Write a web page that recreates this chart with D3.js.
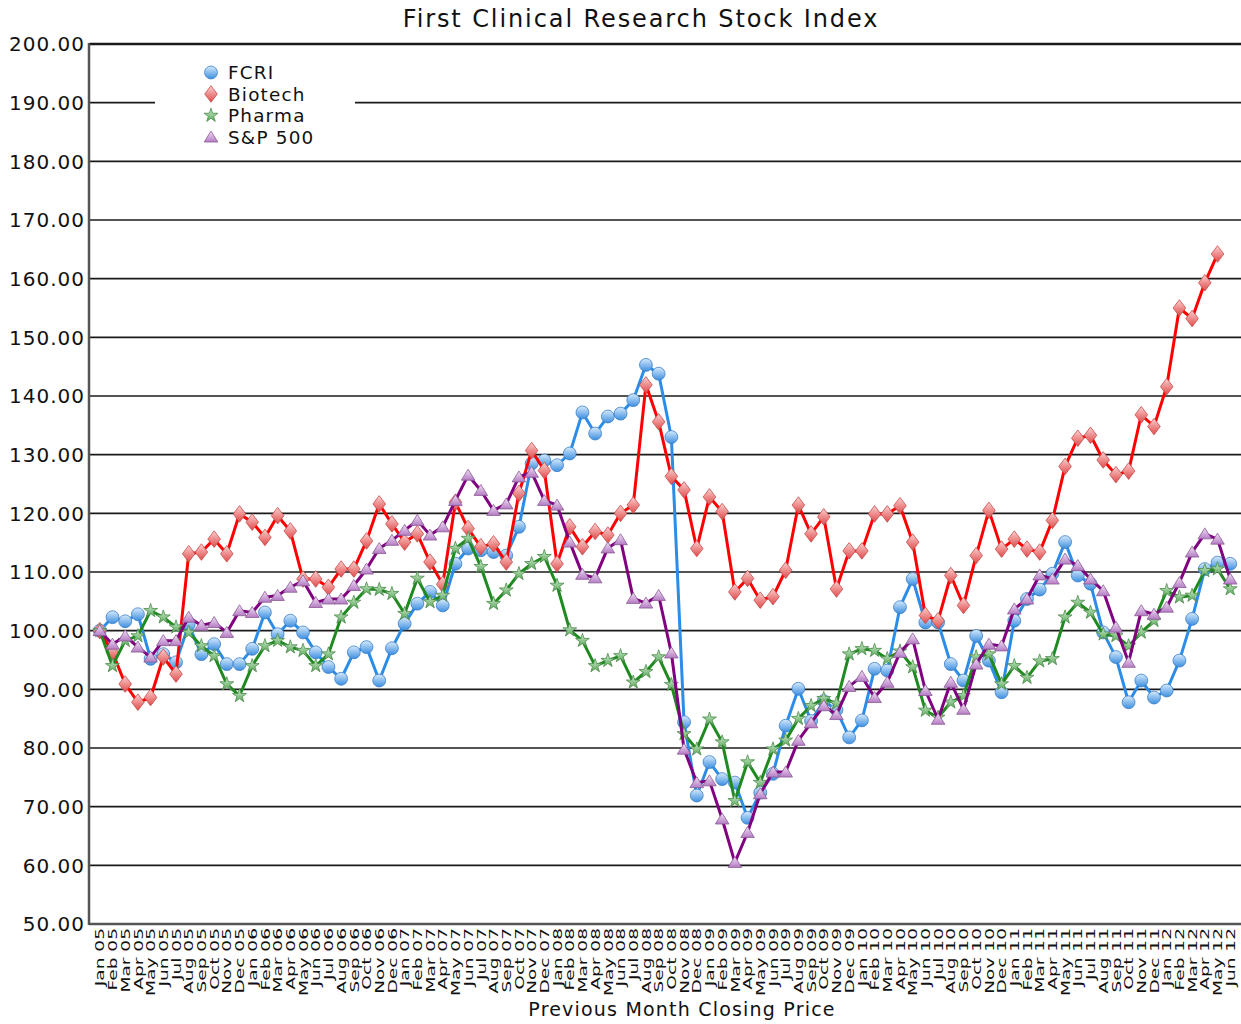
<!DOCTYPE html>
<html>
<head>
<meta charset="utf-8">
<script src="https://cdn.jsdelivr.net/npm/d3@7"></script>
<style>
  body { margin: 0; background: #fff; }
  text { font-family: "DejaVu Sans", Verdana, sans-serif; fill: #111; }
</style>
</head>
<body>
<div id="chart"></div>
<script>
const monthNames = ["Jan","Feb","Mar","Apr","May","Jun","Jul","Aug","Sep","Oct","Nov","Dec"];
const years = ["05","06","07","08","09","10","11","12"];
// Jan 05 .. Jun 12
const months = [];
years.forEach(y => monthNames.forEach((m, i) => { if (!(y === "12" && i > 5)) months.push(m + " " + y); }));

const yTicks = [50, 60, 70, 80, 90, 100, 110, 120, 130, 140, 150, 160, 170, 180, 190, 200];

const fcri = [100,102.3,101.6,102.8,95.2,96.0,94.6,101.0,96.0,97.7,94.3,94.3,96.9,103.1,99.4,101.7,99.7,96.3,93.8,91.8,
  96.3,97.2,91.5,97.0,101.2,104.6,106.6,104.3,111.4,114.0,113.7,113.4,112.8,117.7,128.5,129.0,128.2,130.2,137.2,133.6,
  136.5,137.0,139.3,145.3,143.8,133.0,84.4,71.9,77.6,74.7,74.1,68.1,72.4,75.6,83.8,90.1,84.6,88.0,86.5,81.8,
  84.7,93.5,93.2,104.0,108.8,101.4,101.4,94.3,91.5,99.1,94.9,89.5,101.7,105.4,107.0,109.7,115.1,109.4,108.0,99.7,
  95.5,87.8,91.5,88.6,89.8,94.9,102.0,110.5,111.6,111.4];

const biotech = [100,96.3,90.9,87.8,88.6,95.5,92.6,113.1,113.4,115.6,113.1,119.9,118.5,115.9,119.6,117.0,108.8,108.8,107.4,110.5,
  110.5,115.3,121.6,118.2,115.1,116.5,111.7,107.9,121.9,117.4,114.3,114.8,111.7,123.4,130.7,127.3,111.4,117.7,114.3,116.9,
  116.3,120.0,121.4,141.9,135.6,126.3,124.0,114.0,122.8,120.3,106.6,108.9,105.2,105.8,110.3,121.4,116.5,119.4,107.1,113.6,
  113.6,119.9,119.9,121.3,115.1,102.6,101.7,109.4,104.3,112.8,120.5,113.9,115.6,113.9,113.4,118.8,128.0,132.8,133.3,129.1,
  126.6,127.2,136.8,134.8,141.6,155.0,153.2,159.3,164.2,null];

const pharma = [100,94.0,98.3,99.1,103.4,102.3,100.6,99.7,97.4,95.7,90.9,88.9,94.0,97.4,98.3,97.2,96.6,94.0,96.0,102.3,
  104.8,107.1,107.0,106.3,102.9,108.9,104.9,106.0,114.0,115.7,110.9,104.6,106.9,109.7,111.4,112.6,107.7,100.1,98.3,94.0,
  94.9,95.7,91.2,93.0,95.5,90.8,82.4,79.8,84.9,81.0,71.0,77.6,74.1,79.8,81.3,85.0,87.2,88.4,87.6,96.0,
  96.9,96.6,95.2,96.5,93.8,86.4,85.2,87.8,88.9,95.5,96.0,90.9,94.0,92.0,94.8,95.2,102.3,104.8,103.1,99.4,
  99.1,97.4,99.7,101.7,106.8,105.7,106.0,110.2,110.5,107.1];

const sp500 = [100,97.7,99.1,97.2,95.5,98.3,98.3,102.3,100.9,101.4,99.7,103.4,103.1,105.7,106.0,107.4,108.5,104.8,105.4,105.4,
  107.7,110.5,114.0,115.4,117.1,118.8,116.3,117.7,122.2,126.5,123.9,120.5,121.6,126.2,127.0,122.2,121.4,115.1,109.6,109.0,
  114.1,115.5,105.5,104.7,106.0,96.2,79.8,74.1,74.4,67.9,60.5,65.6,72.2,75.9,75.9,81.3,84.3,87.2,85.7,90.5,
  92.2,88.6,91.2,96.3,98.6,89.8,84.9,91.2,86.6,94.3,97.7,97.4,103.7,105.4,109.5,108.8,112.2,111.1,108.8,106.8,
  100.6,94.6,103.4,102.8,104.0,108.2,113.4,116.5,115.6,108.8];

const seriesNames = ["FCRI", "Biotech", "Pharma", "S&P 500"];
const seriesValues = [fcri, biotech, pharma, sp500];

const W = 1241, H = 1024;
const plotLeft = 89, plotRight = 1241, plotTop = 44, plotBottom = 924;

const svg = d3.select("#chart").append("svg")
    .attr("width", W)
    .attr("height", H);

const defs = svg.append("defs");
function grad(id, c1, c2) {
  const g = defs.append("linearGradient").attr("id", id)
      .attr("x1", 0).attr("y1", 0).attr("x2", 0).attr("y2", 1);
  g.append("stop").attr("offset", "0%").attr("stop-color", c1);
  g.append("stop").attr("offset", "100%").attr("stop-color", c2);
}
grad("gBlue", "#d6eafc", "#3d8fe0");
grad("gRed", "#fbd0d0", "#e04a4a");
grad("gGreen", "#cfeccf", "#5aa85a");
grad("gPurple", "#f0e0f4", "#b57cc4");

const styles = [
  {line: "#2b8de8", fill: "url(#gBlue)", stroke: "#3b7fc8", shape: "circle"},
  {line: "#ff0000", fill: "url(#gRed)", stroke: "#c84a4a", shape: "diamond"},
  {line: "#1f8a1f", fill: "url(#gGreen)", stroke: "#4a8a4a", shape: "star"},
  {line: "#800080", fill: "url(#gPurple)", stroke: "#8a5a96", shape: "triangle"}
];

const shapes = {
  circle: d3.symbol().type(d3.symbolCircle).size(130)(),
  diamond: "M0,-8.3L6.3,0L0,8.3L-6.3,0Z",
  star: d3.symbol().type(d3.symbolStar).size(60)(),
  triangle: "M0,-6L6.8,5L-6.8,5Z"
};

const x = d3.scalePoint()
    .domain(months)
    .range([plotLeft, plotRight])
    .padding(0.85);

const y = d3.scaleLinear()
    .domain([50, 200])
    .range([plotBottom, plotTop]);

// grid lines
svg.append("g")
  .selectAll("line")
  .data(yTicks.filter(t => t > 50))
  .enter().append("line")
    .attr("x1", plotLeft).attr("x2", plotRight)
    .attr("y1", d => y(d)).attr("y2", d => y(d))
    .attr("stroke", "#1a1a1a")
    .attr("stroke-width", d => d === 200 ? 2.5 : 1.6);

// y labels
svg.append("g")
  .selectAll("text")
  .data(yTicks)
  .enter().append("text")
    .attr("x", plotLeft - 4)
    .attr("y", d => y(d))
    .attr("dy", "0.36em")
    .attr("text-anchor", "end")
    .style("font-size", "20px")
    .style("letter-spacing", "1px")
    .text(d => d.toFixed(2));

// axis lines
svg.append("line")
    .attr("x1", plotLeft).attr("x2", plotLeft)
    .attr("y1", plotTop - 1).attr("y2", plotBottom + 1)
    .attr("stroke", "#555").attr("stroke-width", 2.5);
svg.append("line")
    .attr("x1", plotLeft).attr("x2", plotRight)
    .attr("y1", plotBottom).attr("y2", plotBottom)
    .attr("stroke", "#555").attr("stroke-width", 2.5);

// x labels (stretched along the text direction, like the original)
svg.append("g")
  .selectAll("text")
  .data(months)
  .enter().append("text")
    .attr("transform", d => "translate(" + x(d) + "," + (plotBottom + 4) + ") rotate(-90) scale(1.43,1)")
    .attr("dy", "0.36em")
    .attr("text-anchor", "end")
    .style("font-size", "13px")
    .text(d => d);

// series
seriesValues.forEach((vals, si) => {
  const st = styles[si];
  const pts = vals.map((v, i) => ({m: months[i], v: v})).filter(d => d.v != null);
  const line = d3.line()
      .x(d => x(d.m))
      .y(d => y(d.v));
  svg.append("path")
      .datum(pts)
      .attr("fill", "none")
      .attr("stroke", st.line)
      .attr("stroke-width", 3)
      .attr("stroke-linejoin", "round")
      .attr("d", line);
  svg.append("g")
    .selectAll("path")
    .data(pts)
    .enter().append("path")
      .attr("d", shapes[st.shape])
      .attr("transform", d => "translate(" + x(d.m) + "," + y(d.v) + ")")
      .attr("fill", st.fill)
      .attr("stroke", st.stroke)
      .attr("stroke-width", 0.8);
});

// legend
const legend = svg.append("g");
legend.append("rect")
    .attr("x", 155).attr("y", 60)
    .attr("width", 200).attr("height", 88)
    .attr("fill", "#fff");
seriesNames.forEach((name, i) => {
  const st = styles[i];
  const ly = 72.5 + i * 21.5;
  legend.append("path")
      .attr("d", shapes[st.shape])
      .attr("transform", "translate(211," + ly + ")")
      .attr("fill", st.fill)
      .attr("stroke", st.stroke)
      .attr("stroke-width", 0.8);
  legend.append("text")
      .attr("x", 228)
      .attr("y", ly)
      .attr("dy", "0.36em")
      .style("font-size", "18.4px")
      .style("letter-spacing", "1.2px")
      .text(name);
});

// titles
svg.append("text")
    .attr("x", 641)
    .attr("y", 27)
    .attr("text-anchor", "middle")
    .style("font-size", "24px")
    .style("letter-spacing", "1.9px")
    .text("First Clinical Research Stock Index");

svg.append("text")
    .attr("x", 682)
    .attr("y", 1016)
    .attr("text-anchor", "middle")
    .style("font-size", "19px")
    .style("letter-spacing", "1.2px")
    .text("Previous Month Closing Price");
</script>
</body>
</html>
